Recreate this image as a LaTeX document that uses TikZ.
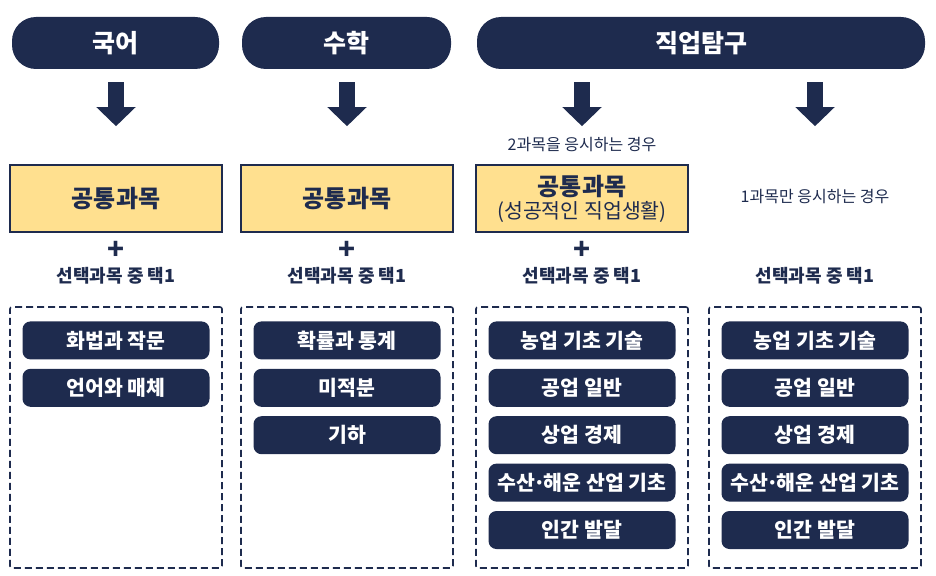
\documentclass[tikz,border=0pt]{standalone}
\usepackage{fontspec}
\setmainfont{Noto Sans CJK KR}
\usetikzlibrary{positioning, arrows.meta}
\definecolor{navy}{HTML}{1E2B4E}
\definecolor{paleyellow}{HTML}{FFE08F}
\newcommand{\middot}{\kern-0.1em·\kern-0.1em}

\tikzset{
  headpill/.style={fill=navy, rounded corners=24pt, minimum height=52pt,
    text=white, font=\fontsize{25}{28}\selectfont\bfseries},
  commonbox/.style={fill=paleyellow, draw=navy, line width=1.5pt,
    minimum width=212pt, minimum height=67pt, text=navy, align=center,
    font=\fontsize{24}{27}\selectfont\bfseries},
  choicebox/.style={draw=navy, dash pattern=on 7pt off 4pt, line width=1.6pt,
    rounded corners=2pt, minimum width=212pt, minimum height=261pt},
  optpill/.style={fill=navy, rounded corners=8pt, minimum width=187pt,
    minimum height=38pt, inner xsep=2pt, text=white,
    font=\fontsize{20.5}{22}\selectfont\bfseries},
  bigarrow/.style={draw=navy, line width=16pt, -{Triangle[width=38pt,length=19pt]}},
  plussign/.style={text=navy, font=\fontsize{28}{28}\selectfont\bfseries, inner sep=0pt},
  picklabel/.style={text=navy, font=\fontsize{18}{20}\selectfont\bfseries},
  casenote/.style={text=navy, font=\fontsize{16}{18}\selectfont}
}

\begin{document}
\begin{tikzpicture}
  \useasboundingbox (0,0) rectangle (936pt,-575pt);

  % subject headers
  \node[headpill, minimum width=207pt] (hkor) at (115.5pt,-43pt) {국어};
  \node[headpill, minimum width=209pt] (hmath) at (346.5pt,-43pt) {수학};
  \node[headpill, minimum width=448pt] (hjob) at (701pt,-43pt) {직업탐구};

  % common subjects
  \node[commonbox] (gkor) at (116pt,-198.5pt) {공통과목};
  \node[commonbox] (gmath) at (347pt,-198.5pt) {공통과목};
  \node[commonbox, font=\fontsize{24}{26}\selectfont\bfseries] (gjob) at (582pt,-198.5pt)
    {공통과목\\[-3pt]{\fontsize{20.5}{22}\selectfont\mdseries(성공적인 직업생활)}};

  % elective frames
  \node[choicebox] (dkor) at (116pt,-437.5pt) {};
  \node[choicebox] (dmath) at (347pt,-437.5pt) {};
  \node[choicebox] (djob) at (582pt,-437.5pt) {};
  \node[choicebox] (done) at (815pt,-437.5pt) {};

  % arrows
  \draw[bigarrow] ([yshift=-13pt]hkor.south -| gkor) -- ++(0,-44pt);
  \draw[bigarrow] ([yshift=-13pt]hmath.south -| gmath) -- ++(0,-44pt);
  \draw[bigarrow] ([yshift=-13pt]hjob.south -| gjob) -- ++(0,-44pt);
  \draw[bigarrow] ([yshift=-13pt]hjob.south -| done) -- ++(0,-44pt);

  % case notes
  \node[casenote] (ntwo) at (582pt,-145pt) {2과목을 응시하는 경우};
  \node[casenote] (none) at (815pt,-197pt) {1과목만 응시하는 경우};

  % plus + pick one
  \node[plussign] (pkor) at (116pt,-250pt) {+};
  \node[plussign] (pmath) at (347pt,-250pt) {+};
  \node[plussign] (pjob) at (582pt,-250pt) {+};
  \node[picklabel] (lkor) at (116pt,-276pt) {선택과목 중 택1};
  \node[picklabel] (lmath) at (347pt,-276pt) {선택과목 중 택1};
  \node[picklabel] (ljob) at (582pt,-276pt) {선택과목 중 택1};
  \node[picklabel] (lone) at (815pt,-276pt) {선택과목 중 택1};

  % electives
  \node[optpill, below=15pt of dkor.north] (kor1) {화법과 작문};
  \node[optpill, below=9pt of kor1] (kor2) {언어와 매체};

  \node[optpill, below=15pt of dmath.north] (math1) {확률과 통계};
  \node[optpill, below=9pt of math1] (math2) {미적분};
  \node[optpill, below=9pt of math2] (math3) {기하};

  \foreach \col in {djob,done} {
    \node[optpill, below=15pt of \col.north] (\col1) {농업 기초 기술};
    \node[optpill, below=9pt of \col1] (\col2) {공업 일반};
    \node[optpill, below=9pt of \col2] (\col3) {상업 경제};
    \node[optpill, below=9pt of \col3] (\col4) {수산\middot 해운 산업 기초};
    \node[optpill, below=9pt of \col4] (\col5) {인간 발달};
  }
\end{tikzpicture}
\end{document}
